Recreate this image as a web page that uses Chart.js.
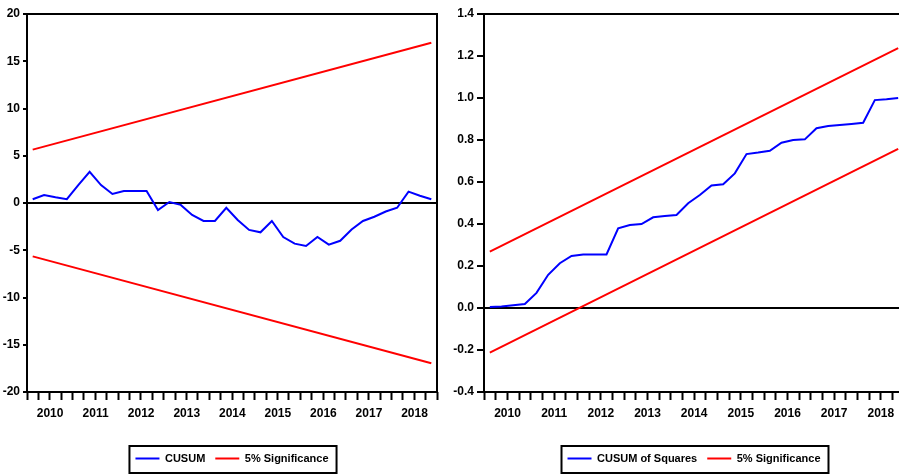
<!DOCTYPE html>
<html>
<head>
<meta charset="utf-8">
<script src="https://cdn.jsdelivr.net/npm/chart.js@4.4.1/dist/chart.umd.min.js"></script>
<style>
html, body { margin: 0; padding: 0; background: #fff; overflow: hidden; width: 899px; height: 474px; }
#left { position: absolute; left: 0; top: 0; }
#right { position: absolute; left: 440px; top: 0; }
</style>
</head>
<body>
<canvas id="left" width="445" height="474"></canvas>
<canvas id="right" width="470" height="474"></canvas>
<script>
// quarters on the x axis
var quarters = ['2010Q1','2010Q2','2010Q3','2010Q4','2011Q1','2011Q2','2011Q3','2011Q4',
    '2012Q1','2012Q2','2012Q3','2012Q4','2013Q1','2013Q2','2013Q3','2013Q4',
    '2014Q1','2014Q2','2014Q3','2014Q4','2015Q1','2015Q2','2015Q3','2015Q4',
    '2016Q1','2016Q2','2016Q3','2016Q4','2017Q1','2017Q2','2017Q3','2017Q4',
    '2018Q1','2018Q2','2018Q3','2018Q4'];

// CUSUM
var cusum = [0.4, 0.85, 0.6, 0.4, 1.9, 3.3, 1.9, 0.95, 1.27, 1.27, 1.27, -0.75,
    0.1, -0.2, -1.27, -1.9, -1.9, -0.5, -1.8, -2.85, -3.1, -1.9, -3.6, -4.3,
    -4.55, -3.6, -4.4, -4.0, -2.8, -1.9, -1.45, -0.9, -0.5, 1.2, 0.77, 0.39];
// 5% bands (first and last quarter)
var cusumUpper = [5.65, 16.95];
var cusumLower = [-5.65, -16.95];

// CUSUM of squares, right panel
var cusumSq = [0.005, 0.007, 0.013, 0.019, 0.072, 0.158, 0.213, 0.248, 0.255, 0.255, 0.255, 0.379,
    0.395, 0.40, 0.432, 0.438, 0.443, 0.499, 0.538, 0.583, 0.589, 0.641, 0.733, 0.74,
    0.749, 0.787, 0.80, 0.803, 0.856, 0.867, 0.871, 0.876, 0.882, 0.99, 0.994, 1.0];
var sqUpper = [0.268, 1.238];
var sqLower = [-0.212, 0.758];

var leftTicks = [-20, -15, -10, -5, 0, 5, 10, 15, 20];
var rightTicks = [-0.4, -0.2, 0.0, 0.2, 0.4, 0.6, 0.8, 1.0, 1.2, 1.4];

Chart.defaults.font.family = "'Liberation Sans', Arial, sans-serif";
Chart.defaults.font.weight = 'bold';
Chart.defaults.font.size = 12;
Chart.defaults.color = '#000';

// frame round the plot area
var framePlugin = {
    id: 'frame',
    afterDraw: function(chart) {
        var a = chart.chartArea, c = chart.ctx;
        c.save();
        c.strokeStyle = '#000';
        c.lineWidth = 2;
        c.strokeRect(a.left, a.top, a.right - a.left, a.bottom - a.top);
        c.restore();
    }
};

// box round the legend items
var legendBoxPlugin = {
    id: 'legendBox',
    afterDraw: function(chart) {
        var boxes = chart.legend.legendHitBoxes;
        if (!boxes || !boxes.length) return;
        var l = Infinity, r = -Infinity, t = Infinity, b = -Infinity;
        boxes.forEach(function(h) {
            l = Math.min(l, h.left); r = Math.max(r, h.left + h.width);
            t = Math.min(t, h.top); b = Math.max(b, h.top + h.height);
        });
        var c = chart.ctx;
        c.save();
        c.strokeStyle = '#000';
        c.lineWidth = 2;
        c.strokeRect(l - 6, t - 7, (r - l) + 14, (b - t) + 16);
        c.restore();
    }
};

function endPoints(vals) {
    return [{x: quarters[0], y: vals[0]}, {x: quarters[quarters.length - 1], y: vals[1]}];
}

function makeChart(id, cfg) {
    var ctx = document.getElementById(id).getContext('2d');
    return new Chart(ctx, {
        type: 'line',
        data: {
            labels: quarters,
            datasets: [
                {label: cfg.label, data: cfg.values, borderColor: '#0000ff', backgroundColor: '#0000ff', borderWidth: 2},
                {label: '5% Significance', data: endPoints(cfg.upper), borderColor: '#ff0000', backgroundColor: '#ff0000', borderWidth: 2},
                {label: '5% Significance', data: endPoints(cfg.lower), borderColor: '#ff0000', backgroundColor: '#ff0000', borderWidth: 2}
            ]
        },
        options: {
            responsive: false,
            animation: false,
            elements: { point: { radius: 0 }, line: { tension: 0 } },
            layout: { padding: { top: 14, right: cfg.padRight, left: 0, bottom: 0 } },
            plugins: {
                tooltip: { enabled: false },
                legend: {
                    position: 'bottom',
                    fullSize: false,
                    labels: {
                        usePointStyle: true,
                        pointStyle: 'line',
                        pointStyleWidth: 24,
                        padding: 10,
                        font: { size: 11, weight: 'bold' },
                        filter: function(item) { return item.datasetIndex !== 2; }
                    }
                }
            },
            scales: {
                x: {
                    type: 'category',
                    offset: true,
                    afterFit: function(s) { s.height = 51; },
                    border: { display: false },
                    grid: { offset: true, drawOnChartArea: false, tickLength: 8, tickColor: '#000', tickWidth: 2 },
                    ticks: {
                        autoSkip: false,
                        maxRotation: 0,
                        padding: 6,
                        labelOffset: cfg.labelOffset,
                        callback: function(v, i) { return i % 4 === 1 ? quarters[i].slice(0, 4) : ''; }
                    }
                },
                y: {
                    min: cfg.ticks[0],
                    max: cfg.ticks[cfg.ticks.length - 1],
                    afterFit: function(s) { s.width = cfg.yWidth; },
                    afterBuildTicks: function(s) { s.ticks = cfg.ticks.map(function(v) { return {value: v}; }); },
                    border: { display: false },
                    grid: {
                        color: function(c) { return c.tick && Math.abs(c.tick.value) < 1e-9 ? '#000' : 'rgba(0,0,0,0)'; },
                        lineWidth: 2,
                        tickColor: '#000',
                        tickWidth: 2,
                        tickLength: cfg.tickLen
                    },
                    ticks: {
                        padding: 3,
                        callback: cfg.fmt
                    }
                }
            }
        },
        plugins: [framePlugin, legendBoxPlugin]
    });
}

makeChart('left', {
    label: 'CUSUM', values: cusum, upper: cusumUpper, lower: cusumLower,
    ticks: leftTicks, yWidth: 27, padRight: 8, tickLen: 4, labelOffset: 6,
    fmt: function(v) { return String(v); }
});

makeChart('right', {
    label: 'CUSUM of Squares', values: cusumSq, upper: sqUpper, lower: sqLower,
    ticks: rightTicks, yWidth: 44, padRight: 6, tickLen: 7, labelOffset: 6,
    fmt: function(v) { return v.toFixed(1); }
});
</script>
</body>
</html>
